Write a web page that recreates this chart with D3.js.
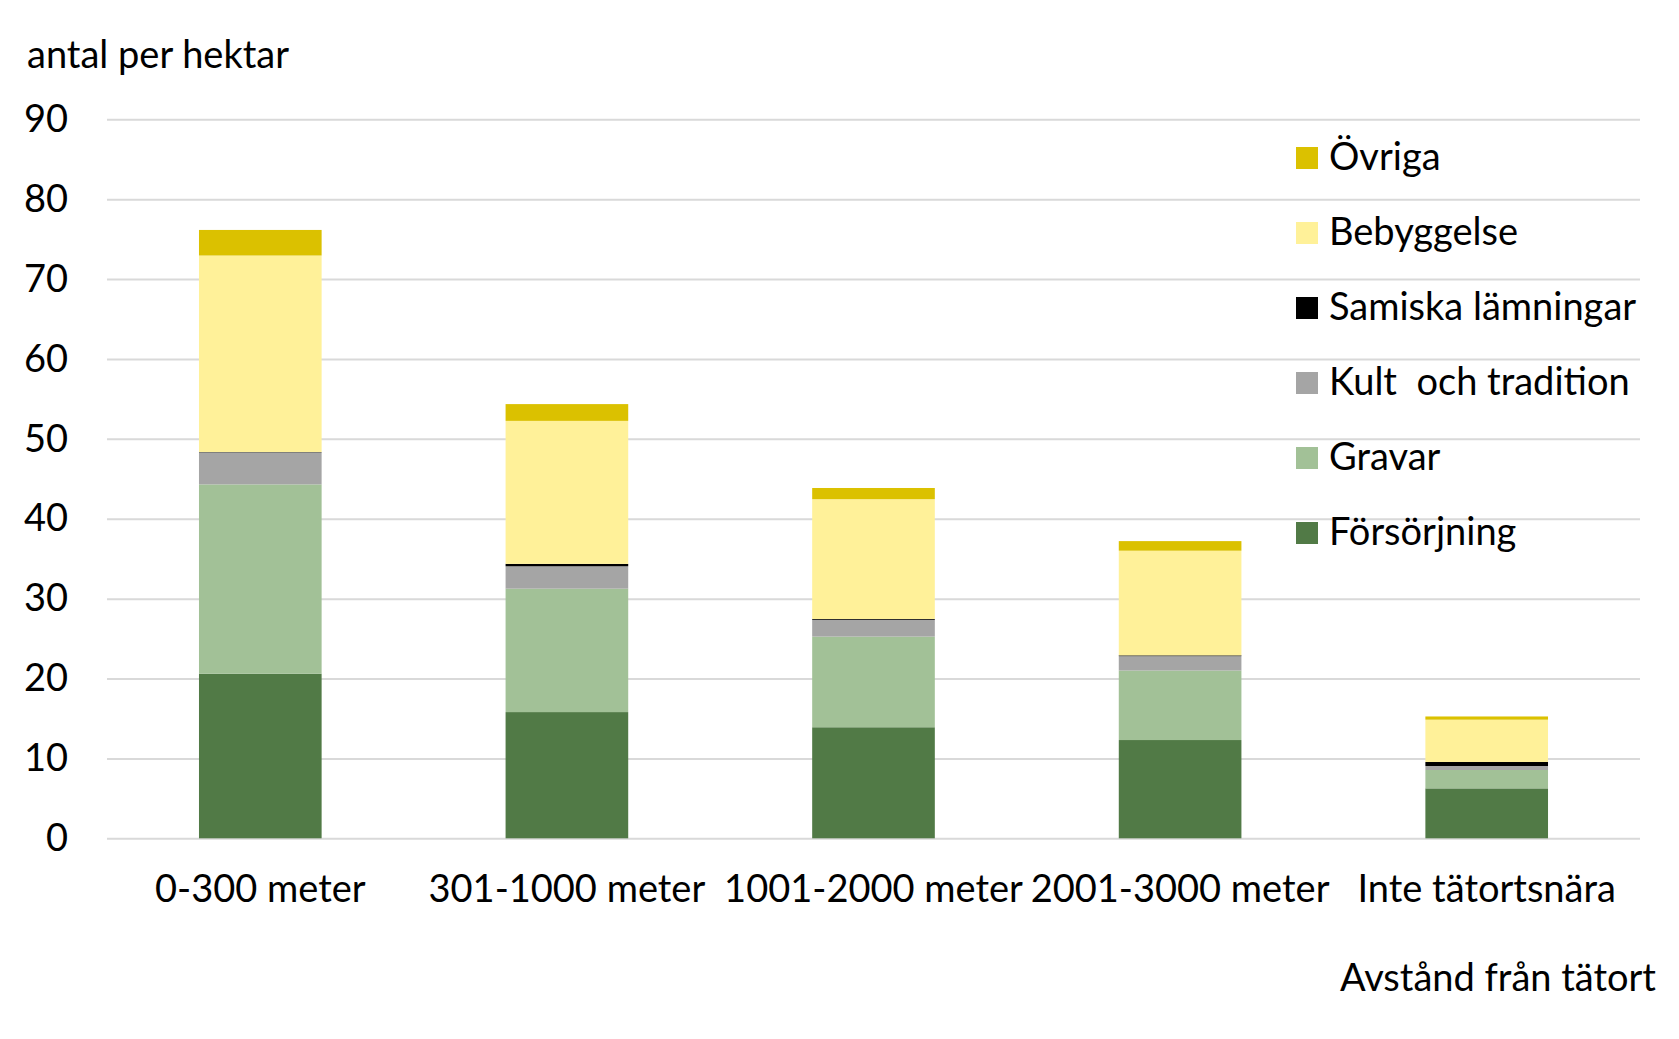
<!DOCTYPE html>
<html>
<head>
<meta charset="utf-8">
<script src="https://cdn.jsdelivr.net/npm/d3@7"></script>
<style>
body { margin: 0; background: #fff; }
text { font-family: Lato, "Noto Sans", sans-serif; fill: #000; }
</style>
</head>
<body>
<svg id="chart" width="1679" height="1039"></svg>
<script>
// categories on the x axis
var categories = ["0-300 meter", "301-1000 meter", "1001-2000 meter", "2001-3000 meter", "Inte tätortsnära"];

// series, bottom to top
var seriesNames = ["Försörjning", "Gravar", "Kult  och tradition", "Samiska lämningar", "Bebyggelse", "Övriga"];
var forsorjning = [20.6, 15.8, 13.9, 12.3, 6.25];
var gravar      = [23.7, 15.45, 11.35, 8.7, 2.3];
var kult        = [4.0, 2.8, 2.1, 1.8, 0.5];
var samiska     = [0.05, 0.3, 0.1, 0.1, 0.5];
var bebyggelse  = [24.6, 17.9, 15.0, 13.1, 5.3];
var ovriga      = [3.2, 2.1, 1.4, 1.2, 0.4];
var seriesColors = ["#517a46", "#a2c197", "#a5a5a5", "#000000", "#fff199", "#dbc100"];

var yTicks = [0, 10, 20, 30, 40, 50, 60, 70, 80, 90];

var svg = d3.select("#chart");
var FONT = 38;

// note: "top" is taken by window.top, so use plot* names
var plotLeft = 107, plotRight = 1640, plotBottom = 838.3, plotTop = 119.3;

var x = d3.scaleBand().domain(categories).range([plotLeft, plotRight])
	.paddingInner(0.6).paddingOuter(0.3);
var y = d3.scaleLinear().domain([0, 90]).range([plotBottom, plotTop]);

// build rows for the stack
var allSeries = [forsorjning, gravar, kult, samiska, bebyggelse, ovriga];
var rows = categories.map(function(c, i) {
	var r = { cat: c };
	seriesNames.forEach(function(s, j) { r[s] = allSeries[j][i]; });
	return r;
});
var stacked = d3.stack().keys(seriesNames)(rows);

// gridlines + y tick labels
var yAxis = svg.append("g")
	.attr("transform", "translate(" + plotLeft + ",0)")
	.call(d3.axisLeft(y).tickValues(yTicks).tickSize(-(plotRight - plotLeft)).tickPadding(39));
yAxis.select(".domain").remove();
yAxis.selectAll("line").attr("stroke", "#d9d9d9").attr("stroke-width", 2);
yAxis.selectAll("text")
	.style("font-family", "Lato, 'Noto Sans', sans-serif")
	.style("font-size", FONT + "px")
	.attr("fill", "#000");

// bars
svg.append("g").selectAll("g").data(stacked).enter().append("g")
	.attr("fill", function(d, i) { return seriesColors[i]; })
	.selectAll("rect").data(function(d) { return d; }).enter().append("rect")
	.attr("x", function(d) { return x(d.data.cat); })
	.attr("width", x.bandwidth())
	.attr("y", function(d) { return y(d[1]); })
	.attr("height", function(d) { return y(d[0]) - y(d[1]); });

// x labels
svg.append("g").selectAll("text").data(categories).enter().append("text")
	.attr("x", function(d) { return x(d) + x.bandwidth() / 2; })
	.attr("y", 902)
	.attr("text-anchor", "middle")
	.style("font-size", FONT + "px")
	.text(function(d) { return d; });

// axis titles
svg.append("text").attr("x", 27).attr("y", 68)
	.style("font-size", FONT + "px").text("antal per hektar");
svg.append("text").attr("x", 1656).attr("y", 991).attr("text-anchor", "end")
	.style("font-size", FONT + "px").text("Avstånd från tätort");

// legend, top to bottom
var legendItems = seriesNames.map(function(s, i) { return { name: s, color: seriesColors[i] }; }).reverse();
var legend = svg.append("g").selectAll("g").data(legendItems).enter().append("g")
	.attr("transform", function(d, i) { return "translate(1296," + (147 + i * 75) + ")"; });
legend.append("rect").attr("width", 22).attr("height", 22)
	.attr("fill", function(d) { return d.color; });
legend.append("text").attr("x", 33).attr("y", 23)
	.style("font-size", FONT + "px")
	.style("white-space", "pre")
	.text(function(d) { return d.name; });
</script>
</body>
</html>
